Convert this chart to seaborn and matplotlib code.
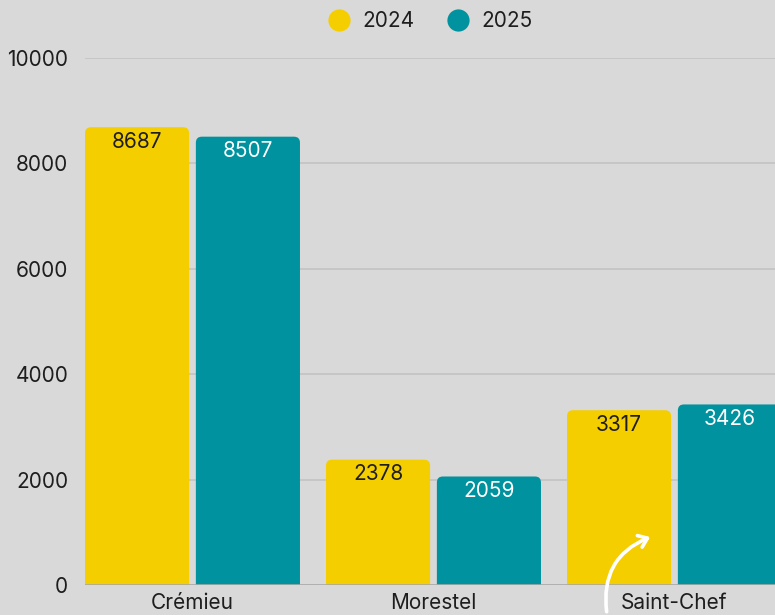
import numpy as np
import pandas as pd
import matplotlib
matplotlib.use("Agg")
import matplotlib.pyplot as plt
import seaborn as sns
from matplotlib.patches import FancyBboxPatch
from matplotlib.lines import Line2D

#### data
communes = ["Crémieu", "Morestel", "Saint-Chef"]
years = ["2024", "2025"]
vals_2024 = [8687, 2378, 3317]
vals_2025 = [8507, 2059, 3426]

yticks = [0, 2000, 4000, 6000, 8000, 10000]

colors = {"2024": "#F5CE00", "2025": "#00929E"}
txt_colors = {"2024": "#1e1e1e", "2025": "#ffffff"}
bg = "#d9d9d9"

df = pd.DataFrame(
    {
        "commune": communes * 2,
        "annee": ["2024"] * len(communes) + ["2025"] * len(communes),
        "valeur": vals_2024 + vals_2025,
    }
)

sns.set_style("white")
plt.rcParams["font.family"] = ["Inter", "DejaVu Sans"]

fig = plt.figure(figsize=(7.75, 6.15), dpi=100, facecolor=bg)
ax = fig.add_axes([85 / 775, 30 / 615, 690 / 775, 527 / 615])
ax.set_facecolor(bg)

sns.barplot(
    data=df,
    x="commune",
    y="valeur",
    hue="annee",
    hue_order=years,
    palette=colors,
    width=0.92,
    saturation=1,
    ax=ax,
)
if ax.get_legend() is not None:
    ax.get_legend().remove()

ax.set_xlim(-0.446, 2.417)
ax.set_ylim(0, 10000)

# px -> data scale for rounding the tops
x_per_px = 1 / 241.0
y_per_px = 10000 / 527.0
aspect = y_per_px / x_per_px
rad = 6 * x_per_px

bar_w = 0.432
patches = list(ax.patches)
for p in patches:
    h = p.get_height()
    if h == 0 or np.isnan(h):
        continue
    cx = p.get_x() + p.get_width() / 2
    fc = p.get_facecolor()
    p.remove()
    rp = FancyBboxPatch(
        (cx - bar_w / 2, -400),
        bar_w,
        h + 400,
        boxstyle=f"round,pad=0,rounding_size={rad}",
        mutation_aspect=aspect,
        facecolor=fc,
        edgecolor="none",
        zorder=2,
    )
    ax.add_patch(rp)

# value labels inside the bars
for i, c in enumerate(communes):
    for yr, vals, off in [("2024", vals_2024, -0.23), ("2025", vals_2025, 0.23)]:
        ax.text(
            i + off,
            vals[i] - 280,
            str(vals[i]),
            ha="center",
            va="center",
            fontsize=15,
            color=txt_colors[yr],
            zorder=3,
        )

# grid
for t in yticks[1:]:
    ax.axhline(t, color="#c3c3c3", lw=1.2, zorder=1)
ax.axhline(0, color="#a8a8a8", lw=1.2, zorder=3)

ax.set_yticks(yticks)
ax.set_yticklabels([str(t) for t in yticks])
ax.tick_params(axis="y", length=0, pad=12, labelsize=15, labelcolor="#1e1e1e")
ax.tick_params(axis="x", length=0, pad=6, labelsize=15, labelcolor="#1e1e1e")
ax.set_xlabel("")
ax.set_ylabel("")
for s in ax.spines.values():
    s.set_visible(False)

# curved arrow
ax.annotate(
    "",
    xy=(1.91, 930),
    xytext=(1.72, -560),
    arrowprops=dict(
        arrowstyle="->,head_length=0.6,head_width=0.45",
        connectionstyle="arc3,rad=-0.4",
        color="white",
        lw=2.6,
    ),
    annotation_clip=False,
    zorder=4,
)

# legend
handles = [
    Line2D([0], [0], marker="o", linestyle="", markersize=16,
           markerfacecolor=colors[y], markeredgecolor="none", label=y)
    for y in years
]
fig.legend(
    handles=handles,
    loc="center",
    bbox_to_anchor=(0.549, 1 - 21 / 615),
    ncol=2,
    frameon=False,
    fontsize=15,
    handletextpad=0.1,
    columnspacing=1.1,
    labelcolor="#1e1e1e",
)

fig.savefig("out.png", dpi=100, facecolor=bg)
